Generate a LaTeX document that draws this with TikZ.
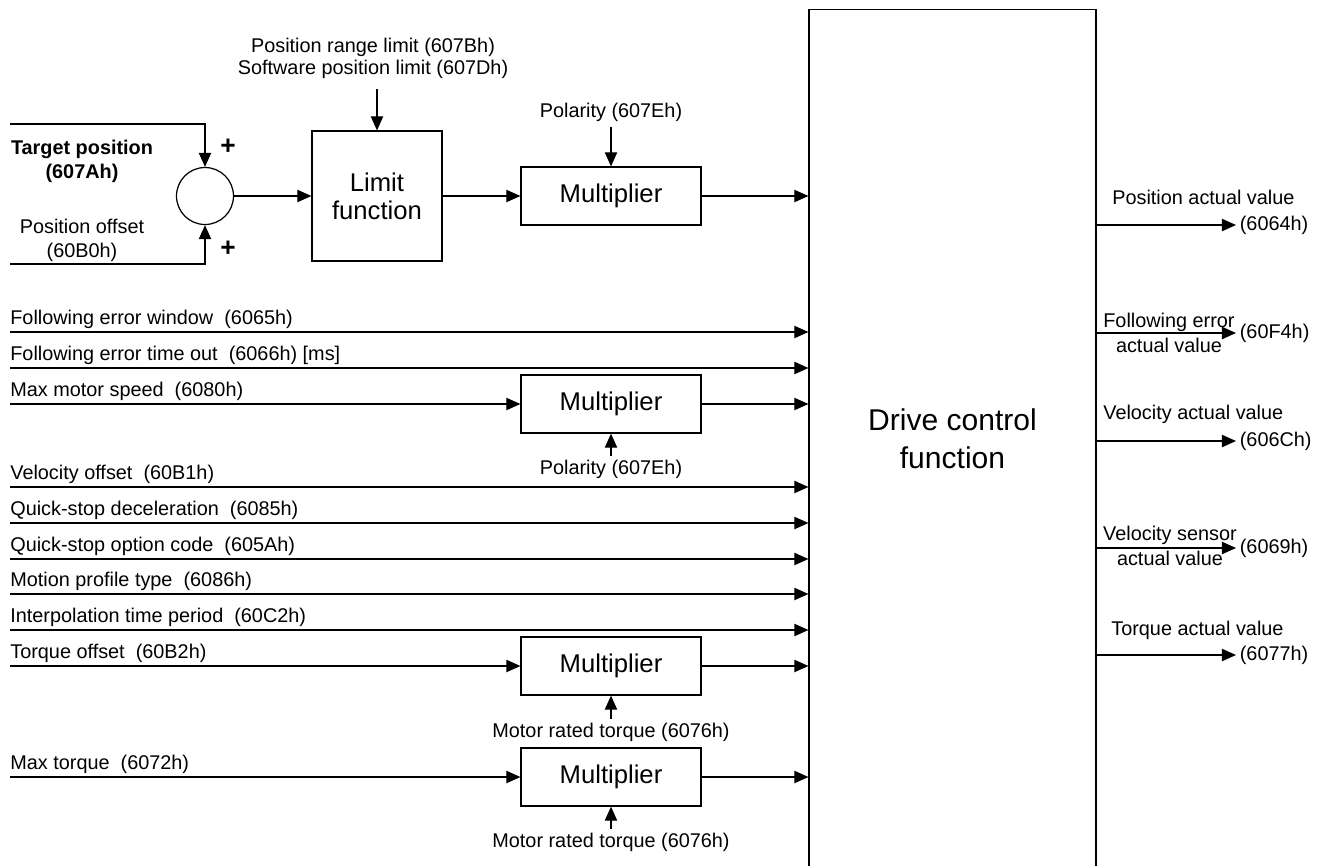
\documentclass[tikz,border=0pt]{standalone}
\usepackage{fontspec}
\setmainfont{Liberation Sans}
\usetikzlibrary{positioning,arrows.meta,calc}

\tikzset{
  sig/.style={-{Triangle[length=8pt,width=7pt]}, line width=0.7pt},
  blk/.style={draw, line width=0.7pt, align=center, inner sep=0pt,
    font=\fontsize{14.6}{16}\selectfont},
  mult/.style={blk, minimum width=3.6cm, minimum height=1.16cm},
  lbl/.style={inner sep=0pt, align=center},
  twoline/.style={lbl, font=\fontsize{11.3}{14.2}\selectfont},
}

\begin{document}
\begin{tikzpicture}[x=0.02cm, y=-0.02cm, font=\fontsize{11.3}{13.6}\selectfont]
  \useasboundingbox (0,0) rectangle (1330,866);
  \clip (0,0) rectangle (1330,866);

  % Constants (pixel grid)
  \def\xL{10}     % left end of the input lines
  \def\xMul{611}  % column of the multipliers
  \def\xOut{1236} % tips of the output arrows

  % Main block (runs off the bottom edge)
  \node[draw, line width=0.7pt, minimum width=5.74cm, minimum height=17.18cm,
    inner sep=0pt, align=center, font=\fontsize{17.1}{21.6}\selectfont]
    (drive) at (952.5,439) {Drive control\\function};

  % Position path: sum -> limit -> multiplier
  \node[circle, draw, line width=0.7pt, minimum size=1.14cm, inner sep=0pt] (sum) at (205,196) {};
  \node[blk, minimum width=2.6cm, minimum height=2.6cm] (limit) at (377,196) {Limit\\function};
  \node[mult] (mul1) at (\xMul,196) {Multiplier};

  \coordinate (tgt) at (\xL,124);
  \coordinate (off) at (\xL,264);
  \node[lbl, font=\fontsize{11.3}{13.6}\selectfont\bfseries] (tgtlab) at (82,161) {Target position\\(607Ah)};
  \node[lbl] (offlab) at (82,240) {Position offset\\(60B0h)};
  \node[lbl, font=\fontsize{15}{15}\selectfont\bfseries] (plus1) at (228,147) {+};
  \node[lbl, font=\fontsize{15}{15}\selectfont\bfseries] (plus2) at (228,249) {+};
  \draw[sig] (tgt) -| (sum.north);
  \draw[sig] (off) -| (sum.south);
  \draw[sig] (sum.east) -- (limit.west);
  \draw[sig] (limit.east) -- (mul1.west);
  \draw[sig] (mul1.east) -- (mul1.east -| drive.west);

  \node[lbl, font=\fontsize{11.3}{12.5}\selectfont] (limtxt) at (373,58)
    {Position range limit (607Bh)\\Software position limit (607Dh)};
  \draw[sig, shorten <=6pt] (limtxt.south -| limit.north) -- (limit.north);
  \node[lbl] (pol1) at (\xMul,112) {Polarity (607Eh)};
  \draw[sig, shorten <=3pt] (pol1.south) -- (mul1.north);

  % Other multipliers
  \node[mult] (mul2) at (\xMul,404) {Multiplier};
  \node[mult] (mul3) at (\xMul,666) {Multiplier};
  \node[mult] (mul4) at (\xMul,777) {Multiplier};
  \node[lbl] (pol2) at (\xMul,469) {Polarity (607Eh)};
  \node[lbl] (mrt1) at (\xMul,732) {Motor rated torque (6076h)};
  \node[lbl] (mrt2) at (\xMul,842) {Motor rated torque (6076h)};
  \draw[sig, shorten <=2pt] (pol2.north) -- (mul2.south);
  \draw[sig, shorten <=2pt] (mrt1.north) -- (mul3.south);
  \draw[sig, shorten <=2pt] (mrt2.north) -- (mul4.south);
  \foreach \m in {2,3,4}
    \draw[sig] (mul\m.east) -- (mul\m.east -| drive.west);

  % Inputs: (index/line y/label)
  \foreach \i/\yy/\txt in {%
    1/332/Following error window\ \ (6065h),
    2/368/Following error time out\ \ (6066h) [ms],
    3/404/Max motor speed\ \ (6080h),
    4/487/Velocity offset\ \ (60B1h),
    5/523/Quick-stop deceleration\ \ (6085h),
    6/559/Quick-stop option code\ \ (605Ah),
    7/594/Motion profile type\ \ (6086h),
    8/630/Interpolation time period\ \ (60C2h),
    9/666/Torque offset\ \ (60B2h),
    10/777/Max torque\ \ (6072h)%
  } {%
    \coordinate (in\i) at (\xL,\yy);
    \node[lbl, anchor=base west] (lab\i) at (\xL,\yy-8) {\txt};
  }
  \foreach \i in {1,2,4,5,6,7,8}
    \draw[sig] (in\i) -- (in\i -| drive.west);
  \draw[sig] (in3) -- (mul2.west);
  \draw[sig] (in9) -- (mul3.west);
  \draw[sig] (in10) -- (mul4.west);

  % Outputs: (index/line y/object code)
  \foreach \j/\yy/\code in {1/225/6064h, 2/333/60F4h, 3/441/606Ch, 4/548/6069h, 5/655/6077h} {%
    \coordinate (out\j) at (\xOut,\yy);
    \draw[sig] (out\j -| drive.east) -- (out\j);
    \node[lbl, anchor=west, inner sep=2pt] (code\j) at (out\j) {(\code)};
  }
  \node[lbl, anchor=west] (desc1) at (1112,197) {Position actual value};
  \node[twoline] (desc2) at (1169,333) {Following error\\actual value};
  \node[lbl, anchor=west] (desc3) at (1103,414) {Velocity actual value};
  \node[twoline] (desc4) at (1170,546) {Velocity sensor\\actual value};
  \node[lbl, anchor=west] (desc5) at (1111,630) {Torque actual value};
\end{tikzpicture}
\end{document}
